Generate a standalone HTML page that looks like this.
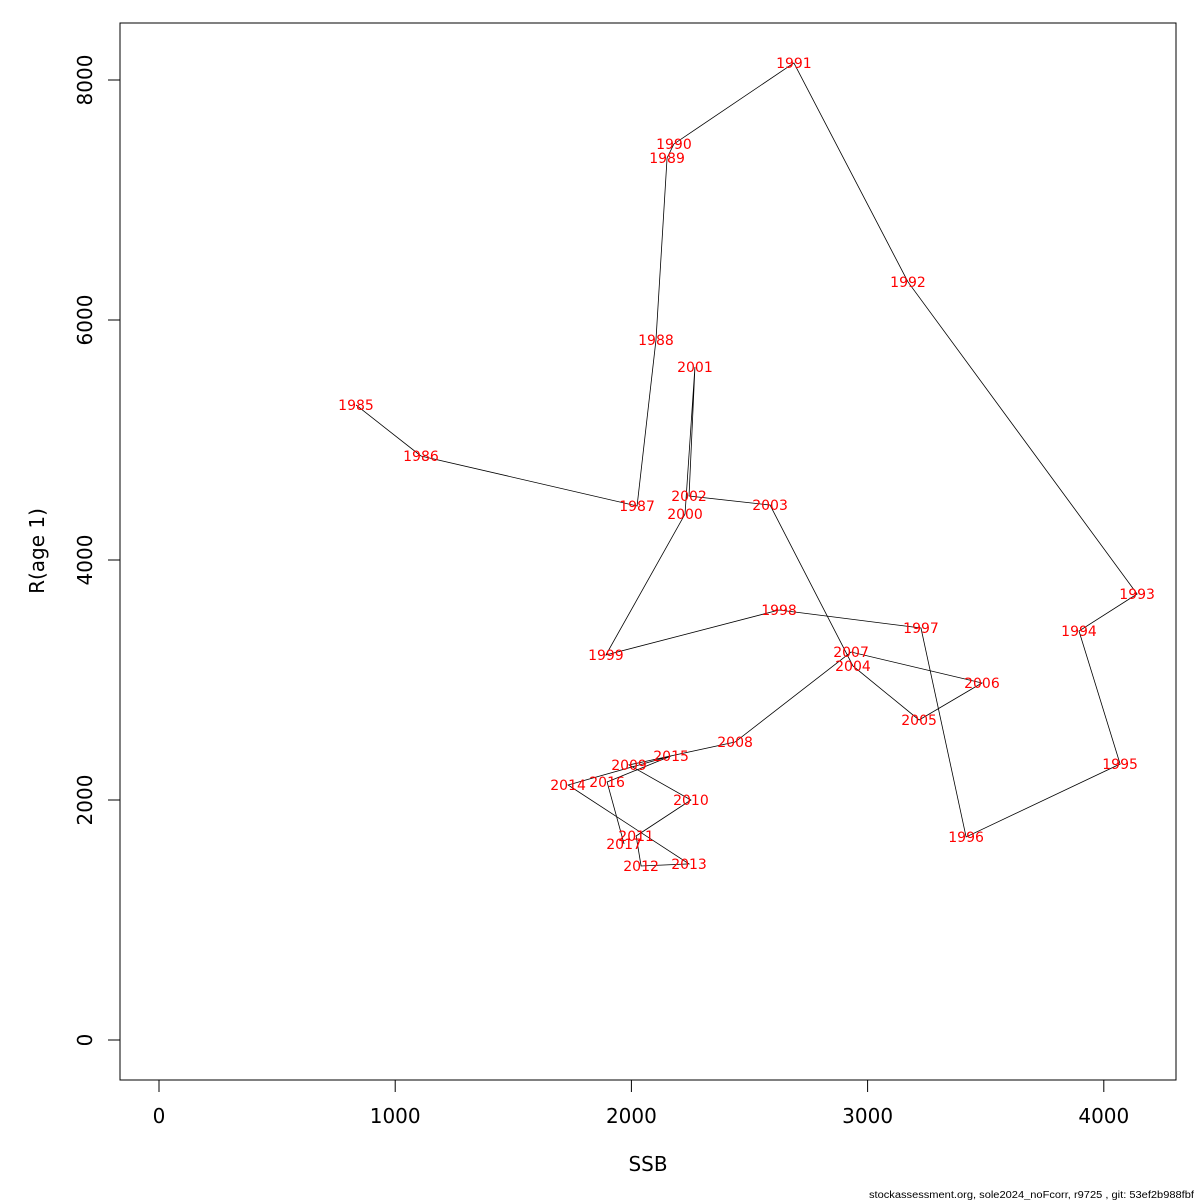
<!DOCTYPE html>
<html><head><meta charset="utf-8"><style>
body{margin:0;background:#fff}
svg{display:block;font-family:"DejaVu Sans","Liberation Sans",sans-serif}
</style></head><body>
<svg id="c" width="1200" height="1200">
<rect x="120" y="23" width="1056" height="1057" fill="none" stroke="#000" stroke-width="1"/>
<g id="axes"></g><g id="lines"></g><g id="labels"></g>
<text x="648" y="1171" font-size="20" text-anchor="middle">SSB</text>
<text transform="translate(44,551) rotate(-90)" font-size="20" text-anchor="middle">R(age 1)</text>
<text x="869" y="1198" font-size="10" textLength="325" lengthAdjust="spacingAndGlyphs" font-family="Liberation Sans">stockassessment.org, sole2024_noFcorr, r9725 , git: 53ef2b988fbf</text>
</svg>
<script>
const years=[1985,1986,1987,1988,1989,1990,1991,1992,1993,1994,1995,1996,1997,1998,1999,2000,2001,2002,2003,2004,2005,2006,2007,2008,2009,2010,2011,2012,2013,2014,2015,2016,2017];
const ssb=[834,1109,2024,2104,2151,2180,2688,3171,4141,3895,4069,3417,3226,2625,1892,2227,2269,2244,2587,2938,3218,3484,2930,2439,1990,2252,2020,2041,2244,1732,2168,1897,1969];
const rec=[5292,4867,4450,5833,7350,7467,8142,6317,3717,3408,2300,1692,3433,3583,3208,4383,5608,4533,4458,3117,2667,2975,3233,2483,2292,2000,1700,1450,1467,2125,2367,2150,1633];
const xTicks=[0,1000,2000,3000,4000];
const yTicks=[0,2000,4000,6000,8000];
const NS="http://www.w3.org/2000/svg";
const X=v=>159+v*0.2362, Y=v=>1040-v*0.12;
function mk(t,a,p){const e=document.createElementNS(NS,t);for(const k in a)e.setAttribute(k,a[k]);p.appendChild(e);return e;}
const ax=document.getElementById('axes');
mk('line',{x1:X(0),x2:X(4000),y1:1080,y2:1080,stroke:'#000'},ax);
mk('line',{x1:120,x2:120,y1:Y(0),y2:Y(8000),stroke:'#000'},ax);
xTicks.forEach(v=>{
 mk('line',{x1:X(v),x2:X(v),y1:1080,y2:1092,stroke:'#000'},ax);
 const t=mk('text',{x:X(v),y:1123,'font-size':20,'text-anchor':'middle'},ax);t.textContent=v;
 
 
});
yTicks.forEach(v=>{
 mk('line',{x1:108,x2:120,y1:Y(v),y2:Y(v),stroke:'#000'},ax);
 const t=mk('text',{transform:`translate(92,${Y(v)}) rotate(-90)`,'font-size':20,'text-anchor':'middle'},ax);t.textContent=v;
 
 
});
const pts=ssb.map((s,i)=>X(s)+','+Y(rec[i])).join(' ');
const pl=mk('polyline',{points:pts,fill:'none',stroke:'#000','stroke-width':0.8},document.getElementById('lines'));


const lg=document.getElementById('labels');
years.forEach((yr,i)=>{
 const t=mk('text',{x:X(ssb[i]),y:Y(rec[i])+5,'font-size':14,fill:'#ff0000','text-anchor':'middle'},lg);
 t.textContent=yr;
 
 
});
</script>
</body></html>
